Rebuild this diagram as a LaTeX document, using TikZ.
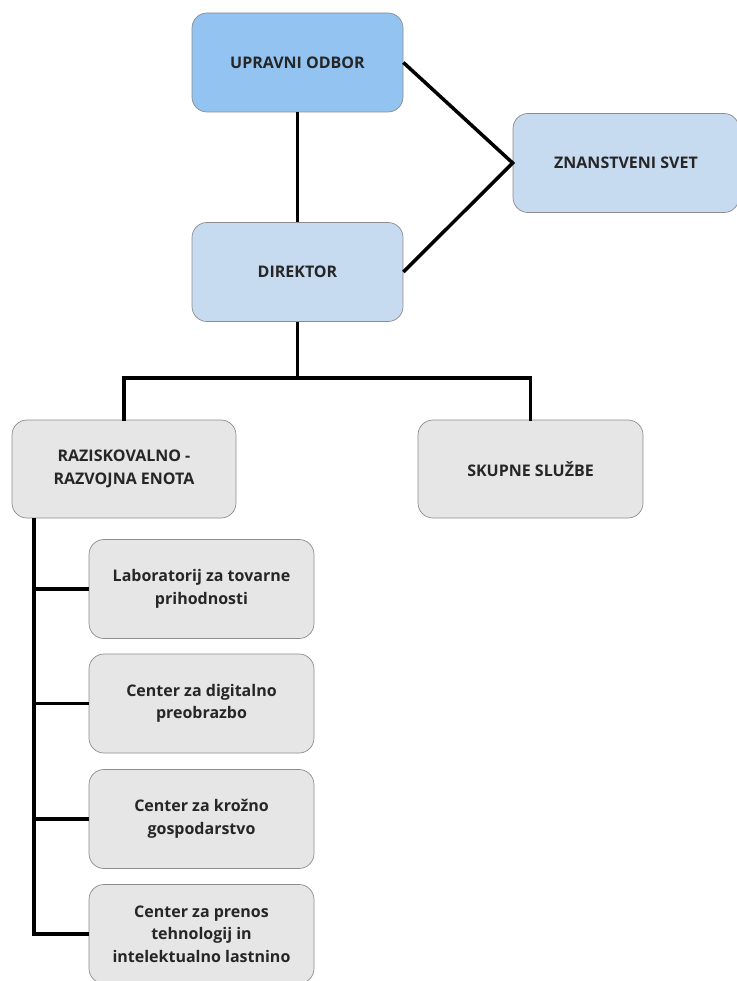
\documentclass[tikz,border=0pt]{standalone}
\usepackage{fontspec}
\setmainfont{Open Sans}
\usetikzlibrary{positioning,calc}
\definecolor{boardColor}{HTML}{93C3F1}
\definecolor{lightBlueColor}{HTML}{C6DAF0}
\definecolor{greyNodeColor}{HTML}{E6E6E6}
\definecolor{borderColor}{HTML}{8C8C8C}
\definecolor{textColor}{HTML}{262626}
\tikzset{
  orgnode/.style = {rectangle, rounded corners=15pt, draw=borderColor, line width=0.7pt,
    align=center, inner sep=0pt, text=textColor, font=\fontsize{16}{22.5}\selectfont\bfseries},
  boardNode/.style = {orgnode, fill=boardColor, minimum width=211pt, minimum height=99pt},% upravni odbor
  blueNode/.style = {orgnode, fill=lightBlueColor, minimum width=222pt, minimum height=99pt},% direktor, svet
  greyNode/.style = {orgnode, fill=greyNodeColor, minimum width=224pt, minimum height=98pt},% enote
  subNode/.style = {orgnode, fill=greyNodeColor, minimum width=225pt, minimum height=99pt},% centri
  link/.style = {line width=3.5pt, black},
}
\begin{document}
\begin{tikzpicture}[x=1pt,y=-1pt]
\useasboundingbox (0,0) rectangle (736,981);
\node [boardNode] (uo) at (297.5,62.5) {UPRAVNI ODBOR};
\node [blueNode, minimum width=211pt] (dir) at (297.5,272) {DIREKTOR};
\node [blueNode, minimum width=226pt] (zs) at (626,163) {ZNANSTVENI SVET};
\node [greyNode] (rre) at (124,469) {RAZISKOVALNO -\\RAZVOJNA ENOTA};
\node [greyNode, minimum width=225pt] (ss) at (530.5,469) {SKUPNE SLUŽBE};
\node [subNode] (lab) at (201.5,589) {Laboratorij za tovarne\\prihodnosti};
\node [subNode] (cdp) at (201.5,703.5) {Center za digitalno\\preobrazbo};
\node [subNode] (ckg) at (201.5,819) {Center za krožno\\gospodarstvo};
\node [subNode] (cpt) at (201.5,934) {Center za prenos\\tehnologij in\\intelektualno lastnino};
% povezave
\coordinate (split) at (297.5,378);
\coordinate (spine) at (34,518);
\draw [link] (uo) -- (dir);
\draw [link] (uo.east) -- (zs.west) -- (dir.east);
\draw [link] (dir) -- (split);
\draw [link, line cap=rect] (rre.north) |- (split) -| (ss.north);
\foreach \c in {lab,cdp,ckg,cpt}
  \draw [link] (spine) |- (\c.west);
\end{tikzpicture}
\end{document}
